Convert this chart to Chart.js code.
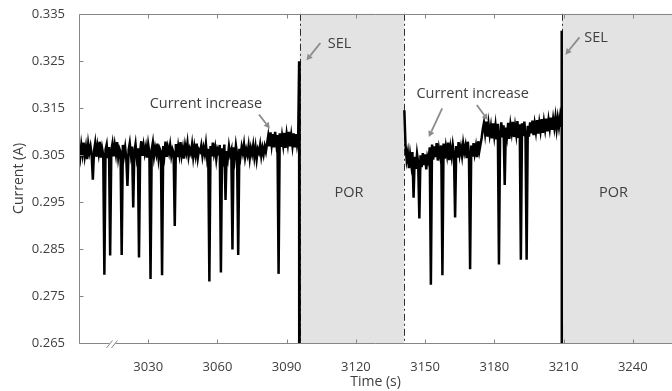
<!DOCTYPE html>
<html><head><meta charset="utf-8">
<script src="https://cdn.jsdelivr.net/npm/chart.js@4.4.0/dist/chart.umd.min.js"></script>
<style>html,body{margin:0;padding:0;background:#fff;}canvas{display:block;}</style>
</head><body>
<canvas id="c" width="672" height="391"></canvas>
<script>
// ---- data ----
const xTicks = [3030, 3060, 3090, 3120, 3150, 3180, 3210, 3240];
const yTicks = [0.265, 0.275, 0.285, 0.295, 0.305, 0.315, 0.325, 0.335];
const xMin = 3000, xMax = 3257;
const sampleStep = 0.5;
const seg1Start = 3000;
const seg1Values = [
 0.3062,0.3045,0.3071,0.3052,0.3076,0.3048,0.3066,0.3041,0.3073,0.3055,
 0.3068,0.3049,0.2997,0.3058,0.3075,0.3046,0.3069,0.3053,0.3078,0.3044,
 0.3064,0.3050,0.2795,0.3061,0.3072,0.3043,0.3067,0.2836,0.3059,0.3074,
 0.3047,0.3070,0.3052,0.3077,0.3045,0.3063,0.3056,0.2837,0.3071,0.3049,
 0.3066,0.3042,0.2984,0.3060,0.3075,0.3051,0.3068,0.2938,0.3057,0.3073,
 0.3046,0.3064,0.2832,0.3058,0.3079,0.3048,0.3070,0.3053,0.3067,0.3044,
 0.3072,0.3055,0.2786,0.3061,0.3076,0.3047,0.3065,0.3052,0.3074,0.3043,
 0.3063,0.3057,0.2794,0.3069,0.3050,0.3078,0.3046,0.3066,0.3054,0.3071,
 0.3048,0.3062,0.3055,0.2899,0.3073,0.3045,0.3068,0.3051,0.3077,0.3049,
 0.3064,0.3042,0.3070,0.3056,0.3075,0.3047,0.3062,0.3053,0.3072,0.3046,
 0.3067,0.3050,0.3074,0.3044,0.3061,0.3057,0.3070,0.3048,0.3065,0.3052,
 0.3073,0.3045,0.3063,0.2781,0.3069,0.3047,0.3076,0.3053,0.3066,0.3041,
 0.3062,0.3055,0.3071,0.2800,0.3064,0.3046,0.3072,0.2954,0.3058,0.3043,
 0.3068,0.3051,0.3060,0.2849,0.3066,0.3044,0.3070,0.3052,0.2837,0.3063,
 0.3047,0.3067,0.3054,0.3072,0.3045,0.3061,0.3050,0.3069,0.3043,0.3064,
 0.3052,0.3070,0.3046,0.3066,0.3041,0.3062,0.3055,0.3071,0.3048,0.3065,
 0.3051,0.3068,0.3057,0.3074,0.3090,0.3068,0.3098,0.3072,0.3094,0.3066,
 0.3099,0.3075,0.3092,0.2797,0.3096,0.3067,0.3090,0.3071,0.3097,0.3065,
 0.3093,0.3074,0.3099,0.3068,0.3091,0.3070,0.3096,0.3066,0.3094,0.3072,
 0.3088
];
const seg2Start = 3141;
const seg2Values = [
 0.3145,0.3072,0.3040,0.3055,0.3022,0.3050,0.3030,0.3056,0.2959,0.3046,
 0.3020,0.3052,0.3033,0.2915,0.3049,0.3024,0.3054,0.3028,0.3051,0.3019,
 0.3045,0.3035,0.3066,0.2774,0.3072,0.3040,0.3068,0.3045,0.3075,0.3038,
 0.3063,0.3048,0.3070,0.2794,0.3074,0.3042,0.3067,0.3050,0.3076,0.3039,
 0.3065,0.3047,0.3071,0.3053,0.2917,0.3069,0.3044,0.3077,0.3051,0.3066,
 0.3048,0.3074,0.3056,0.3069,0.3043,0.3078,0.3052,0.2807,0.3070,0.3046,
 0.3075,0.3053,0.3068,0.3045,0.3079,0.3058,0.3072,0.3086,0.3105,0.3118,
 0.3096,0.3121,0.3089,0.3115,0.3093,0.3110,0.3085,0.3117,0.3091,0.3112,
 0.3083,0.3116,0.2817,0.3095,0.3119,0.3087,0.3113,0.2986,0.3108,0.3090,
 0.3118,0.3084,0.3114,0.3097,0.3120,0.3088,0.3111,0.3093,0.3122,0.3086,
 0.3115,0.2827,0.3117,0.3090,0.3121,0.3094,0.2827,0.3112,0.3089,0.3119,
 0.3096,0.3123,0.3092,0.3116,0.3099,0.3124,0.3095,0.3118,0.3101,0.3126,
 0.3097,0.3121,0.3104,0.3127,0.3100,0.3124,0.3106,0.3129,0.3103,0.3126,
 0.3108,0.3130,0.3105,0.3128,0.3110,0.3131,0.3112
];
const selTimes = [3095.4, 3209.2];
const selPeaks = [0.3249, 0.3314];
const offTimes = [3095.6, 3209.4];
const offLevel = 0;
const porStart = [3095.7, 3209.3];
const porEnd = [3140.8, 3257];
const porLabelTimes = [3117.0, 3231.6];
const porLabelLevel = 0.2970;
const breakTime = 3014.5;

const labels = [
  {text: 'SEL', t: 3107.8, v: 0.3286, align: 'left'},
  {text: 'SEL', t: 3219.0, v: 0.3299, align: 'left'},
  {text: 'Current increase', t: 3055.0, v: 0.3159, align: 'center'},
  {text: 'Current increase', t: 3170.6, v: 0.3179, align: 'center'},
  {text: 'POR', t: porLabelTimes[0], v: porLabelLevel, align: 'center'},
  {text: 'POR', t: porLabelTimes[1], v: porLabelLevel, align: 'center'}
];
const arrows = [
  {from: [3104.6, 0.3288], to: [3098.6, 0.3251]},
  {from: [3216.9, 0.3300], to: [3210.8, 0.3263]},
  {from: [3078.0, 0.3136], to: [3082.7, 0.3106]},
  {from: [3157.4, 0.3149], to: [3151.6, 0.3088]},
  {from: [3172.4, 0.3156], to: [3177.2, 0.3124]}
];

// ---- build series ----
const points = [];
seg1Values.forEach((v, i) => points.push({x: seg1Start + i * sampleStep, y: v}));
points.push({x: selTimes[0], y: selPeaks[0]});
points.push({x: offTimes[0], y: offLevel});
points.push({x: (porStart[0] + porEnd[0]) / 2, y: null});
seg2Values.forEach((v, i) => points.push({x: seg2Start + i * sampleStep, y: v}));
points.push({x: selTimes[1], y: selPeaks[1]});
points.push({x: offTimes[1], y: offLevel});

const AXIS = '#868686';
const TEXT = '#404040';
const FONT = "'Open Sans', sans-serif";

const deco = {
  id: 'deco',
  beforeDatasetsDraw(chart) {
    const {ctx, chartArea: a, scales: {x}} = chart;
    ctx.save();
    ctx.fillStyle = '#e3e3e3';
    for (let i = 0; i < porStart.length; i++) {
      const x0 = x.getPixelForValue(porStart[i]);
      const x1 = Math.min(x.getPixelForValue(porEnd[i]), a.right);
      ctx.fillRect(x0, a.top, x1 - x0, a.bottom - a.top);
    }
    ctx.strokeStyle = '#303030';
    ctx.lineWidth = 1;
    ctx.setLineDash([7, 3, 2, 3]);
    [porStart[0], porEnd[0], porStart[1]].forEach(t => {
      const px = Math.round(x.getPixelForValue(t)) + 0.5;
      ctx.beginPath(); ctx.moveTo(px, a.top); ctx.lineTo(px, a.bottom); ctx.stroke();
    });
    ctx.restore();
  },
  afterDatasetsDraw(chart) {
    const {ctx, chartArea: a, scales: {x, y}} = chart;
    ctx.save();
    ctx.strokeStyle = AXIS; ctx.lineWidth = 1; ctx.setLineDash([]);
    const L = Math.round(a.left) + 0.5, B = Math.round(a.bottom) + 0.5, T = Math.round(a.top) + 0.5;
    ctx.beginPath();
    ctx.moveTo(L, T); ctx.lineTo(a.right, T);
    ctx.moveTo(L, T); ctx.lineTo(L, B); ctx.lineTo(a.right, B);
    ctx.stroke();
    ctx.beginPath();
    xTicks.forEach(t => {
      const px = Math.round(x.getPixelForValue(t)) + 0.5;
      ctx.moveTo(px, B); ctx.lineTo(px, B - 4);
      ctx.moveTo(px, T); ctx.lineTo(px, T + 4);
    });
    yTicks.forEach(v => {
      const py = Math.round(y.getPixelForValue(v)) + 0.5;
      ctx.moveTo(L, py); ctx.lineTo(L + 4, py);
    });
    ctx.stroke();
    const bx = x.getPixelForValue(breakTime);
    ctx.fillStyle = '#fff';
    ctx.fillRect(bx - 3, B - 1.5, 6, 3);
    ctx.beginPath();
    ctx.moveTo(bx - 6, B + 4.5); ctx.lineTo(bx, B - 3);
    ctx.moveTo(bx - 1, B + 4.5); ctx.lineTo(bx + 5, B - 3);
    ctx.stroke();
    ctx.strokeStyle = '#8c8c8c'; ctx.fillStyle = '#8c8c8c'; ctx.lineWidth = 1.8;
    arrows.forEach(ar => {
      const x0 = x.getPixelForValue(ar.from[0]), y0 = y.getPixelForValue(ar.from[1]);
      const x1 = x.getPixelForValue(ar.to[0]), y1 = y.getPixelForValue(ar.to[1]);
      const ang = Math.atan2(y1 - y0, x1 - x0);
      const hl = 6, hw = 3.2;
      const bxp = x1 - hl * Math.cos(ang), byp = y1 - hl * Math.sin(ang);
      ctx.beginPath(); ctx.moveTo(x0, y0); ctx.lineTo(bxp, byp); ctx.stroke();
      ctx.beginPath();
      ctx.moveTo(x1, y1);
      ctx.lineTo(bxp + hw * Math.sin(ang), byp - hw * Math.cos(ang));
      ctx.lineTo(bxp - hw * Math.sin(ang), byp + hw * Math.cos(ang));
      ctx.closePath(); ctx.fill();
    });
    ctx.fillStyle = TEXT; ctx.font = '14.5px ' + FONT; ctx.textBaseline = 'middle';
    labels.forEach(l => {
      ctx.textAlign = l.align;
      ctx.fillText(l.text, x.getPixelForValue(l.t), y.getPixelForValue(l.v));
    });
    ctx.restore();
  }
};

new Chart(document.getElementById('c'), {
  type: 'line',
  data: {datasets: [{
    data: points,
    borderColor: '#000',
    borderWidth: 2.5,
    pointRadius: 0,
    tension: 0,
    spanGaps: false
  }]},
  options: {
    responsive: false,
    animation: false,
    events: [],
    layout: {padding: {left: 0, right: 0, top: 12, bottom: 0}},
    plugins: {legend: {display: false}, tooltip: {enabled: false}},
    scales: {
      x: {
        type: 'linear', min: xMin, max: xMax,
        afterBuildTicks: s => { s.ticks = xTicks.map(v => ({value: v})); },
        afterFit: s => { s.height = 48; },
        grid: {display: false}, border: {display: false},
        ticks: {color: TEXT, font: {family: FONT, size: 13}, padding: 8, maxRotation: 0, callback: v => String(v)},
        title: {display: true, text: 'Time (s)', color: TEXT, font: {family: FONT, size: 14}, padding: {top: 0, bottom: 1}}
      },
      y: {
        min: 0.265, max: 0.335,
        afterBuildTicks: s => { s.ticks = yTicks.map(v => ({value: v})); },
        afterFit: s => { s.width = 79; },
        grid: {display: false}, border: {display: false},
        ticks: {color: TEXT, font: {family: FONT, size: 13}, padding: 6, callback: v => v.toFixed(3)},
        title: {display: true, text: 'Current (A)', color: TEXT, font: {family: FONT, size: 14}, padding: {top: 11, bottom: 0}}
      }
    }
  },
  plugins: [deco]
});
</script>
</body></html>
